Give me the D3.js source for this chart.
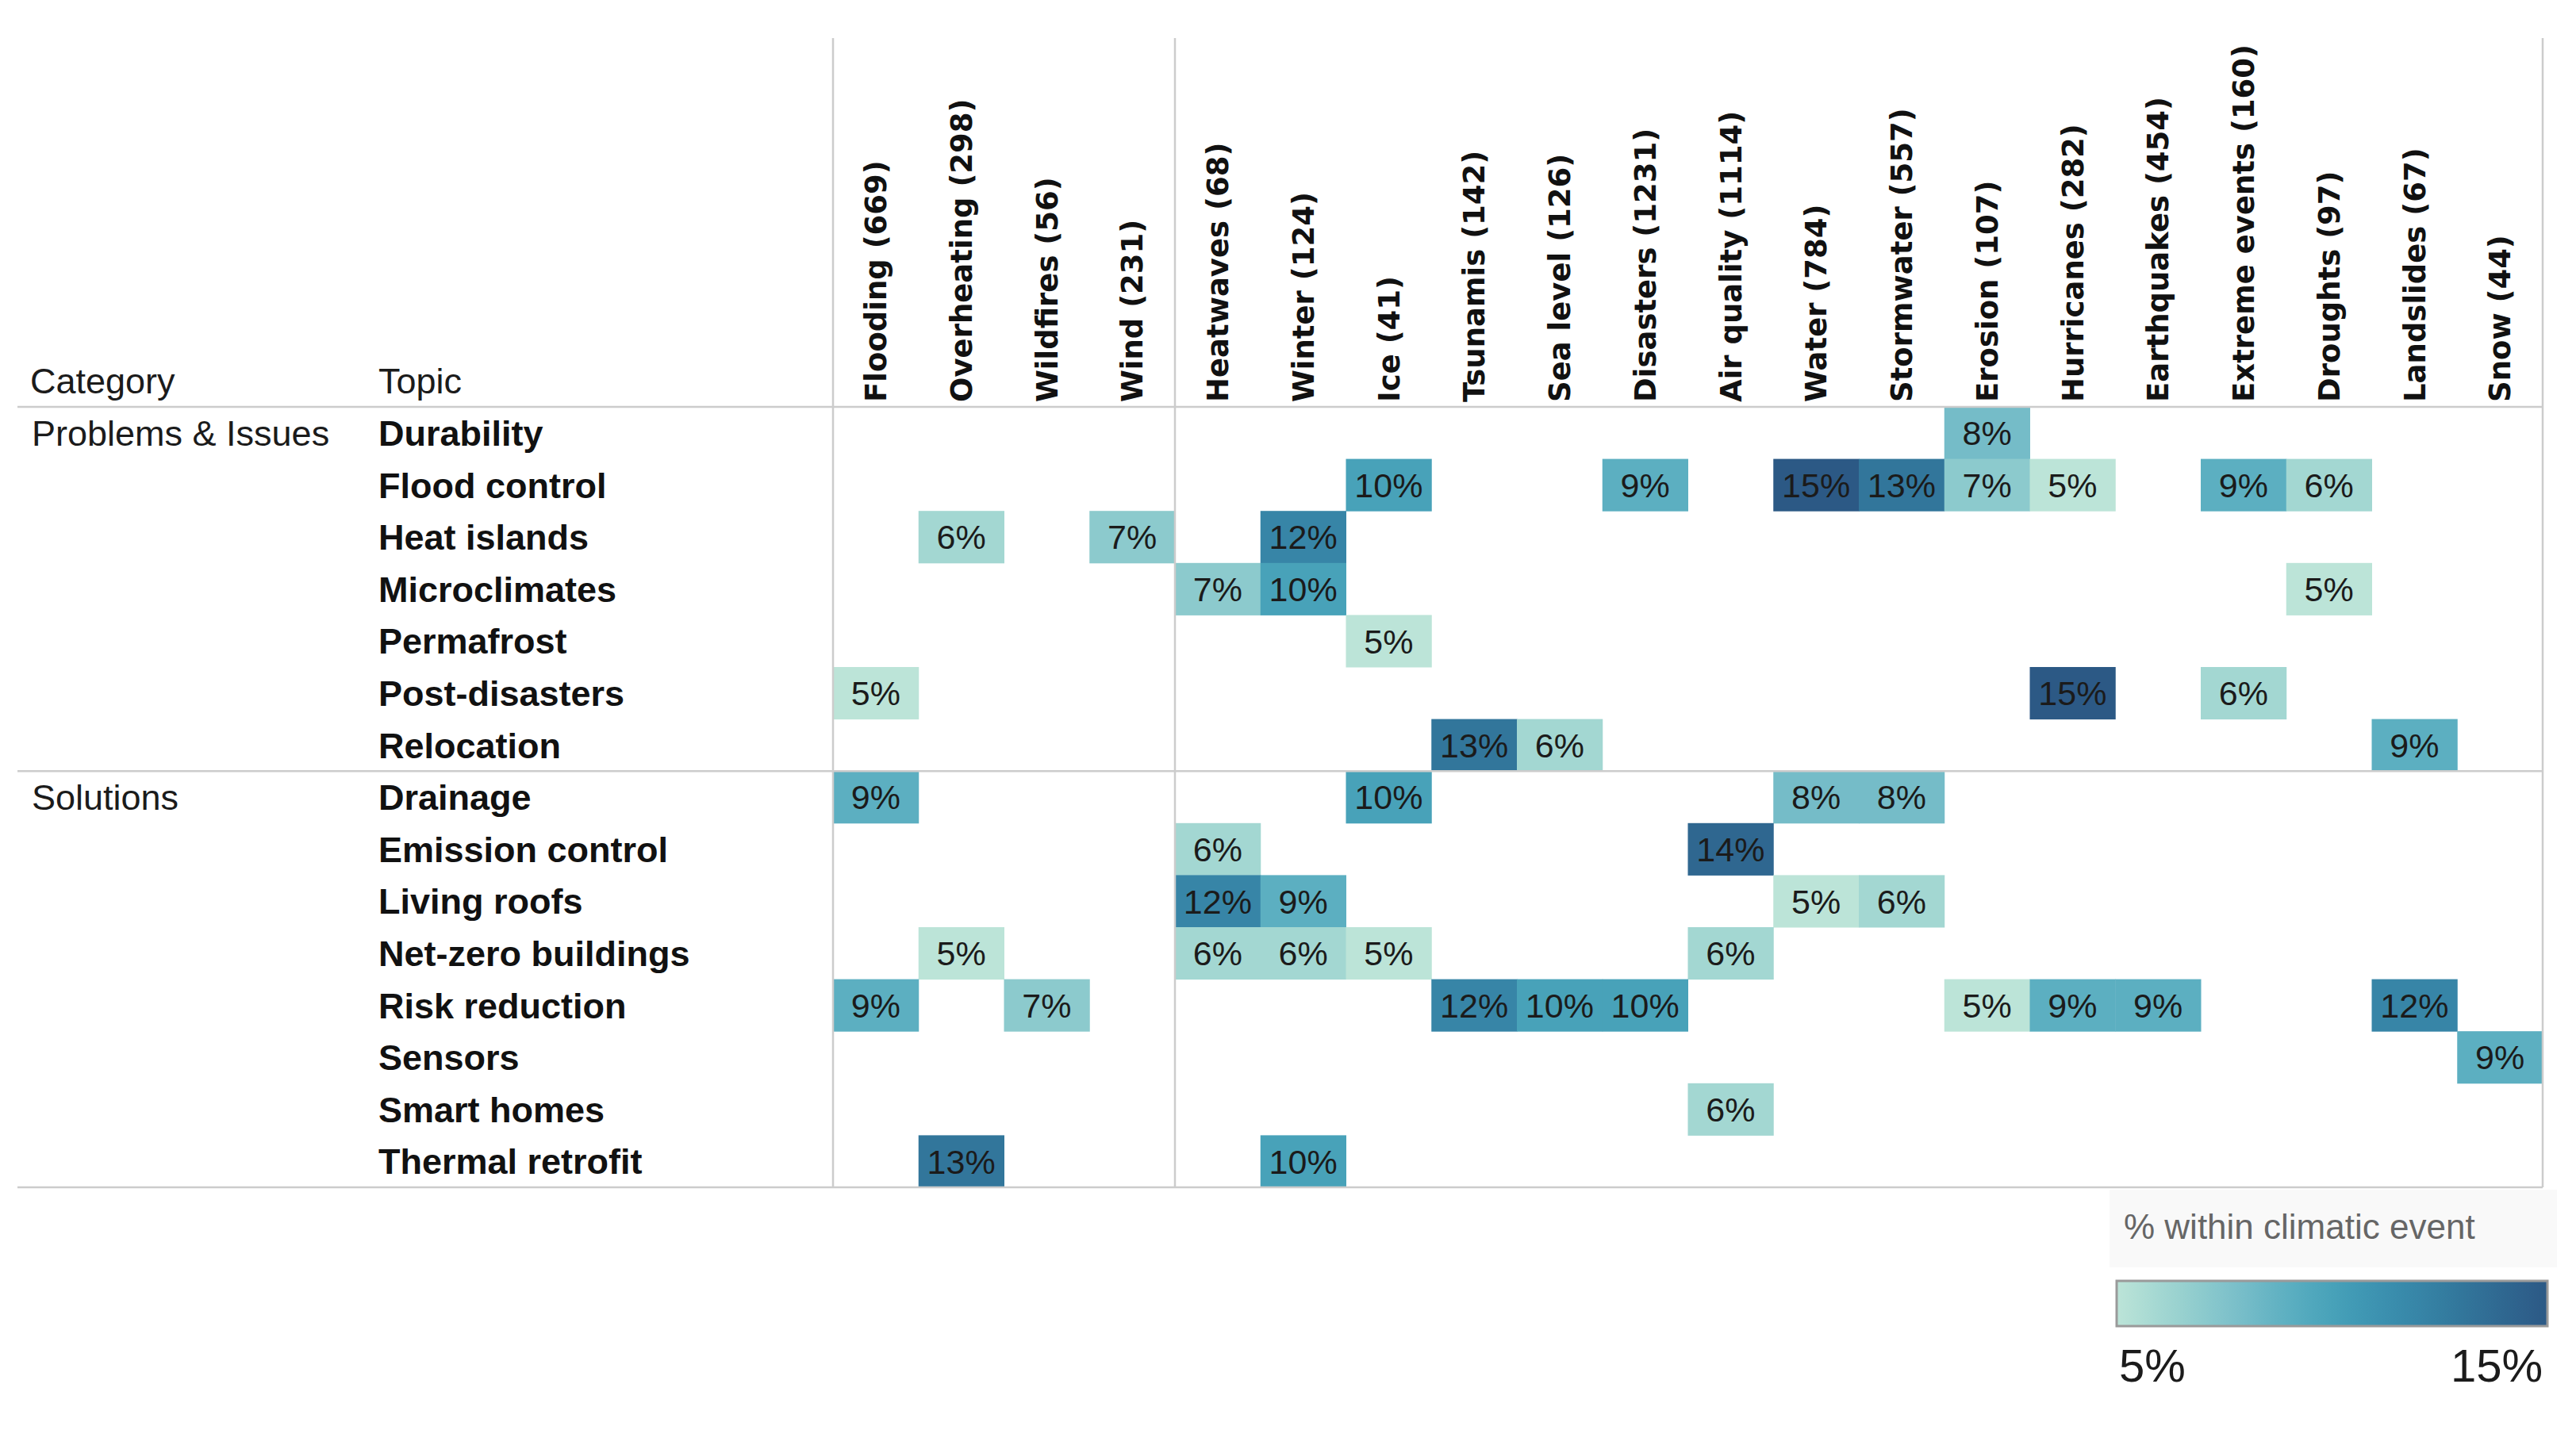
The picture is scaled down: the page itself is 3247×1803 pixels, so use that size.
<!DOCTYPE html>
<html>
<head>
<meta charset="utf-8">
<script src="https://cdn.jsdelivr.net/npm/d3@7"></script>
<style>
  html, body { margin: 0; padding: 0; background: #ffffff; }
  svg { display: block; }
</style>
</head>
<body>
<svg id="chart"></svg>
<script>
// ---------------- DATA ----------------
const events = ["Flooding", "Overheating", "Wildfires", "Wind", "Heatwaves", "Winter", "Ice",
  "Tsunamis", "Sea level", "Disasters", "Air quality", "Water", "Stormwater", "Erosion",
  "Hurricanes", "Earthquakes", "Extreme events", "Droughts", "Landslides", "Snow"];
const eventCounts = [669, 298, 56, 231, 68, 124, 41, 142, 126, 1231, 1114, 784, 557, 107,
  282, 454, 160, 97, 67, 44];
const eventGroupBreaks = ["Flooding", "Heatwaves"]; // vertical rules drawn before these

const categories = ["Problems & Issues", "Solutions"];
const topics = ["Durability", "Flood control", "Heat islands", "Microclimates", "Permafrost",
  "Post-disasters", "Relocation", "Drainage", "Emission control", "Living roofs",
  "Net-zero buildings", "Risk reduction", "Sensors", "Smart homes", "Thermal retrofit"];
const topicCategory = ["Problems & Issues", "Problems & Issues", "Problems & Issues",
  "Problems & Issues", "Problems & Issues", "Problems & Issues", "Problems & Issues",
  "Solutions", "Solutions", "Solutions", "Solutions", "Solutions", "Solutions",
  "Solutions", "Solutions"];

// % within climatic event; one row per topic, columns in the order of `events` (null = empty)
const _ = null;
const values = [
  /* Durability */        [_, _, _, _, _, _, _, _, _, _, _, _, _, 8, _, _, _, _, _, _],
  /* Flood control */     [_, _, _, _, _, _, 10, _, _, 9, _, 15, 13, 7, 5, _, 9, 6, _, _],
  /* Heat islands */      [_, 6, _, 7, _, 12, _, _, _, _, _, _, _, _, _, _, _, _, _, _],
  /* Microclimates */     [_, _, _, _, 7, 10, _, _, _, _, _, _, _, _, _, _, _, 5, _, _],
  /* Permafrost */        [_, _, _, _, _, _, 5, _, _, _, _, _, _, _, _, _, _, _, _, _],
  /* Post-disasters */    [5, _, _, _, _, _, _, _, _, _, _, _, _, _, 15, _, 6, _, _, _],
  /* Relocation */        [_, _, _, _, _, _, _, 13, 6, _, _, _, _, _, _, _, _, _, 9, _],
  /* Drainage */          [9, _, _, _, _, _, 10, _, _, _, _, 8, 8, _, _, _, _, _, _, _],
  /* Emission control */  [_, _, _, _, 6, _, _, _, _, _, 14, _, _, _, _, _, _, _, _, _],
  /* Living roofs */      [_, _, _, _, 12, 9, _, _, _, _, _, 5, 6, _, _, _, _, _, _, _],
  /* Net-zero buildings */[_, 5, _, _, 6, 6, 5, _, _, _, 6, _, _, _, _, _, _, _, _, _],
  /* Risk reduction */    [9, _, 7, _, _, _, _, 12, 10, 10, _, _, _, 5, 9, 9, _, _, 12, _],
  /* Sensors */           [_, _, _, _, _, _, _, _, _, _, _, _, _, _, _, _, _, _, _, 9],
  /* Smart homes */       [_, _, _, _, _, _, _, _, _, _, 6, _, _, _, _, _, _, _, _, _],
  /* Thermal retrofit */  [_, 13, _, _, _, 10, _, _, _, _, _, _, _, _, _, _, _, _, _, _]
];

const legendTitle = "% within climatic event";
const legendTicks = [5, 15];
const headerLabels = ["Category", "Topic"];

// ---------------- LAYOUT / STYLE ----------------
const W = 3247, H = 1803;
const grid = { left: 1050, right: 3205, top: 513, bottom: 1497, ruleTop: 48, ruleLeft: 22 };
const colCatX = 40, colTopicX = 477;
const ruleColor = "#cccccc";
const textFont = "'Liberation Sans', Arial, sans-serif";
const headFont = "'DejaVu Sans', Verdana, sans-serif";

const svg = d3.select("#chart").attr("width", W).attr("height", H)
  .attr("viewBox", `0 0 ${W} ${H}`);
svg.append("rect").attr("width", W).attr("height", H).attr("fill", "#ffffff");

const x = d3.scaleBand().domain(events).range([grid.left, grid.right]).padding(0);
const y = d3.scaleBand().domain(topics).range([grid.top, grid.bottom]).padding(0);

const blueTeal = ["#bce4d8", "#9dd4d0", "#81c3cb", "#62b2c3", "#45a2b9", "#3a8fb0",
  "#347ea1", "#306b93", "#2c5985"];
const color = d3.scaleSequential(d3.interpolateRgbBasis(blueTeal))
  .domain(d3.extent(legendTicks));

// ---------------- CELLS ----------------
const cells = [];
values.forEach((row, i) => row.forEach((v, j) => {
  if (v !== null) cells.push({ topic: topics[i], event: events[j], value: v });
}));

const gCells = svg.append("g");
gCells.selectAll("rect").data(cells).join("rect")
  .attr("x", d => x(d.event))
  .attr("y", d => y(d.topic))
  .attr("width", x.bandwidth() + 0.5)
  .attr("height", y.bandwidth() + 0.5)
  .attr("fill", d => color(d.value));

gCells.selectAll("text").data(cells).join("text")
  .attr("x", d => x(d.event) + x.bandwidth() / 2)
  .attr("y", d => y(d.topic) + y.bandwidth() / 2)
  .attr("dy", "0.36em")
  .attr("text-anchor", "middle")
  .attr("font-family", textFont)
  .attr("font-size", 43)
  .attr("fill", "#1b1b1b")
  .text(d => d.value + "%");

// ---------------- RULES ----------------
const gRules = svg.append("g").attr("stroke", ruleColor).attr("stroke-width", 2.5);
const catBreaks = categories.map(c => topics[topicCategory.indexOf(c)]);
const hYs = [grid.top, ...catBreaks.slice(1).map(t => y(t)), grid.bottom];
gRules.selectAll("line.h").data(hYs).join("line").attr("class", "h")
  .attr("x1", grid.ruleLeft).attr("x2", grid.right)
  .attr("y1", d => d).attr("y2", d => d);
const vXs = [...eventGroupBreaks.map(e => x(e)), grid.right];
gRules.selectAll("line.v").data(vXs).join("line").attr("class", "v")
  .attr("x1", d => d).attr("x2", d => d)
  .attr("y1", grid.ruleTop).attr("y2", grid.bottom);

// ---------------- COLUMN HEADERS ----------------
svg.append("g").selectAll("text").data(events).join("text")
  .attr("transform", d => `translate(${x(d) + x.bandwidth() / 2},${grid.top - 6}) rotate(-90)`)
  .attr("dy", "0.36em")
  .attr("text-anchor", "start")
  .attr("font-family", headFont)
  .attr("font-weight", "bold")
  .attr("font-size", 37)
  .attr("fill", "#111111")
  .text((d, i) => `${d} (${eventCounts[i]})`);

// ---------------- ROW HEADERS ----------------
svg.append("g").selectAll("text").data(headerLabels).join("text")
  .attr("x", (d, i) => i === 0 ? colCatX - 2 : colTopicX)
  .attr("y", grid.top - 17)
  .attr("font-family", textFont)
  .attr("font-size", 45)
  .attr("fill", "#1b1b1b")
  .text(d => d);

svg.append("g").selectAll("text").data(topics).join("text")
  .attr("x", colTopicX)
  .attr("y", d => y(d) + y.bandwidth() / 2)
  .attr("dy", "0.36em")
  .attr("font-family", textFont)
  .attr("font-weight", "bold")
  .attr("font-size", 45)
  .attr("fill", "#111111")
  .text(d => d);

svg.append("g").selectAll("text").data(categories).join("text")
  .attr("x", colCatX)
  .attr("y", c => y(topics[topicCategory.indexOf(c)]) + y.bandwidth() / 2)
  .attr("dy", "0.36em")
  .attr("font-family", textFont)
  .attr("font-size", 45)
  .attr("fill", "#1b1b1b")
  .text(d => d);

// ---------------- LEGEND ----------------
const lg = { x: 2668, y: 1615, w: 543, h: 57 };
const gL = svg.append("g");
gL.append("rect").attr("x", 2659).attr("y", 1500).attr("width", 564).attr("height", 98)
  .attr("fill", "#f9f9f9");
gL.append("text").attr("x", 2677).attr("y", 1562)
  .attr("font-family", textFont).attr("font-size", 44).attr("fill", "#666666")
  .text(legendTitle);

const defs = svg.append("defs");
const grad = defs.append("linearGradient").attr("id", "lgGrad")
  .attr("x1", "0%").attr("x2", "100%").attr("y1", "0%").attr("y2", "0%");
const dom = d3.extent(legendTicks);
d3.range(0, 1.0001, 0.05).forEach(t => {
  grad.append("stop").attr("offset", (t * 100) + "%")
    .attr("stop-color", color(dom[0] + t * (dom[1] - dom[0])));
});
gL.append("rect").attr("x", lg.x).attr("y", lg.y).attr("width", lg.w).attr("height", lg.h)
  .attr("fill", "url(#lgGrad)").attr("stroke", "#9a9a9a").attr("stroke-width", 3);

const lx = d3.scaleLinear().domain(dom).range([lg.x + 3, grid.right]);
gL.selectAll("text.tick").data(legendTicks).join("text").attr("class", "tick")
  .attr("x", d => lx(d))
  .attr("y", 1742)
  .attr("text-anchor", (d, i) => i === 0 ? "start" : "end")
  .attr("font-family", textFont).attr("font-size", 58).attr("fill", "#1b1b1b")
  .text(d => d + "%");
</script>
</body>
</html>
